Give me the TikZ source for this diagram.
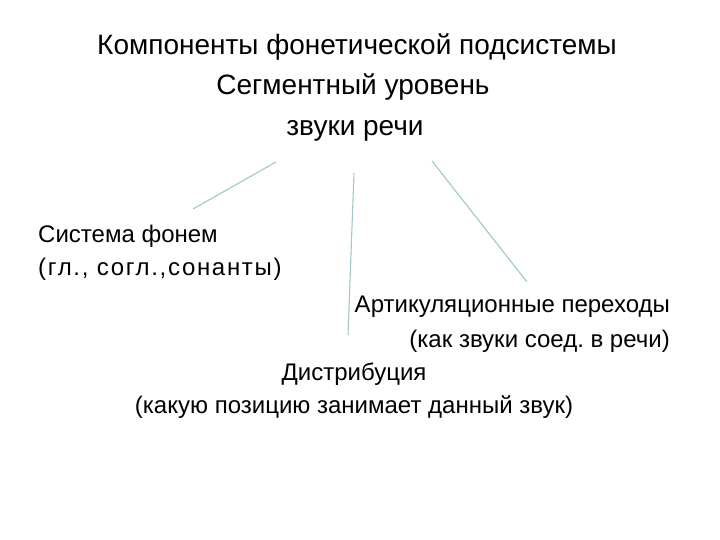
\documentclass[tikz,border=0pt]{standalone}
\usepackage{fontspec}
\setmainfont{Liberation Sans}
\frenchspacing
\definecolor{linecol}{RGB}{160,200,200}
\begin{document}
\begin{tikzpicture}[x=1pt,y=-1pt,
  lbl/.style={inner sep=0pt,font=\fontsize{24}{28}\selectfont,text=black},
  big/.style={lbl,font=\fontsize{28}{32}\selectfont},
  conn/.style={draw=linecol,line width=1.1pt}]
\useasboundingbox[fill=white] (0,0) rectangle (720,540);
\node[big,anchor=base] (t1) at (357,55) {Компоненты фонетической подсистемы};
\node[big,anchor=base] (t2) at (353,95) {Сегментный уровень};
\node[big,anchor=base] (t3) at (355,136) {звуки речи};
\node[lbl,anchor=base west] (s1) at (38,242) {Система фонем};
\node[lbl,anchor=base west] (s2) at (38,275) {\addfontfeature{LetterSpace=7}(гл., согл.,сонанты)};
\node[lbl,anchor=base east] (a1) at (670,312) {Артикуляционные переходы};
\node[lbl,anchor=base east] (a2) at (670,347) {(как звуки соед. в речи)};
\node[lbl,anchor=base] (d1) at (354,380) {Дистрибуция};
\node[lbl,anchor=base] (d2) at (354,413) {(какую позицию занимает данный звук)};
\coordinate (l1a) at (276,162);
\coordinate (l1b) at (193,209);
\coordinate (l2a) at (354,173);
\coordinate (l2b) at (348,335);
\coordinate (l3a) at (432,161);
\coordinate (l3b) at (527,282);
\draw[conn] (l1a) -- (l1b);
\draw[conn] (l2a) -- (l2b);
\draw[conn] (l3a) -- (l3b);
\end{tikzpicture}
\end{document}
